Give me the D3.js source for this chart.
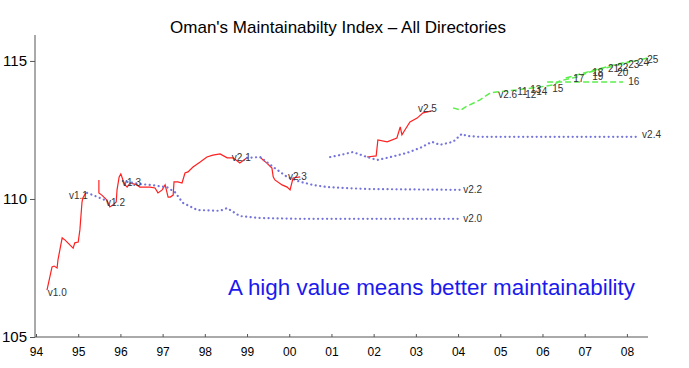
<!DOCTYPE html>
<html>
<head>
<meta charset="utf-8">
<style>
body { margin: 0; background: white; }
text { font-family: "Liberation Sans", Arial, sans-serif; }
.axis path, .axis line { stroke: #555; }
.axis text { fill: black; }
.lbl { font-size: 10px; fill: #333; }
</style>
</head>
<body>
<script src="https://d3js.org/d3.v7.min.js"></script>
<script>
var width = 689,
    height = 368;

// trunk (red, solid) - [year, index]
var redA = [[1994.26,106.70],[1994.38,107.54],[1994.43,107.57],[1994.50,107.50],[1994.52,107.79],[1994.62,108.59],
  [1994.69,108.51],[1994.88,108.22],[1994.92,108.41],[1995.00,108.44],[1995.04,108.88],[1995.09,109.89],[1995.11,110.04],[1995.18,110.22]];
var redB = [[1995.49,110.69],[1995.49,110.22],[1995.56,110.14],[1995.68,109.96],[1995.75,109.71],[1995.82,109.78],[1995.90,109.89],
  [1995.92,110.33],[1995.97,110.80],[1996.01,110.91],[1996.06,110.69],[1996.11,110.51],[1996.16,110.43],[1996.23,110.58],
  [1996.39,110.51],[1996.46,110.43],[1996.70,110.43],[1996.82,110.40],[1996.89,110.22],[1996.99,110.33],[1997.06,110.51],
  [1997.13,110.07],[1997.18,110.07],[1997.25,110.14],[1997.27,110.62],[1997.36,110.62],[1997.46,110.58],[1997.53,110.94],
  [1997.60,110.98],[1997.72,111.16],[1997.89,111.34],[1998.05,111.52],[1998.19,111.59],[1998.36,111.63],[1998.53,111.49],
  [1998.67,111.49],[1998.83,111.30],[1999.00,111.49]];
var redC = [[1999.31,111.52],[1999.38,111.41],[1999.47,111.30],[1999.59,111.12],[1999.62,110.80],[1999.66,110.69],
  [1999.83,110.51],[1999.95,110.43],[2000.02,110.33],[2000.09,110.76],[2000.26,110.80]];
var redD = [[2001.84,111.52],[2002.06,111.56],[2002.10,112.14],[2002.32,112.07],[2002.55,112.21],[2002.63,112.61],
  [2002.67,112.32],[2002.74,112.50],[2002.86,112.79],[2003.03,112.93],[2003.17,113.12],[2003.38,113.19]];

// release branches (blue, dotted)
var blueA = [[1995.21,110.22],[1995.40,110.11],[1995.68,109.93]];
var blueB = [[1996.06,110.65],[1996.46,110.54],[1996.70,110.51],[1997.10,110.43],[1997.29,110.25],[1997.48,109.86],
  [1997.82,109.60],[1998.36,109.57],[1998.53,109.67],[1998.83,109.38],[1999.31,109.31],[2000.26,109.28],[2004.05,109.28]];
var blueC = [[1999.00,111.49],[1999.31,111.52],[1999.62,111.16],[1999.95,110.80],[2000.26,110.62],[2000.56,110.51],
  [2000.90,110.43],[2001.84,110.36],[2004.05,110.33]];
var blueD = [[2000.97,111.52],[2001.20,111.59],[2001.51,111.70],[2001.84,111.52],[2002.08,111.41],[2002.32,111.49],
  [2002.79,111.67],[2003.10,111.85],[2003.38,112.07],[2003.57,111.96],[2003.88,112.07],[2004.09,112.36],[2004.21,112.28],
  [2004.52,112.25],[2008.31,112.25]];

// newer trunk and branches (green, dashed)
var greenA = [[2003.88,113.30],[2004.07,113.22],[2004.17,113.33],[2004.52,113.59],[2004.76,113.84],[2004.95,113.88],
  [2005.40,113.95],[2005.94,114.06],[2006.25,114.13],[2006.42,114.28],[2006.82,114.42],[2007.06,114.57],[2007.29,114.67],
  [2007.60,114.78],[2008.00,114.93],[2008.31,115.04],[2008.50,115.11]];
var greenB = [[2006.11,114.24],[2007.91,114.24]];
var greenC = [[2006.55,114.38],[2006.95,114.55],[2007.35,114.72],[2007.75,114.88],[2008.20,115.02]];

// release labels: text, year, index
var labels = [["v1.0",1994.28,106.63],["v1.1",1994.78,110.11],["v1.2",1995.66,109.89],["v1.3",1996.04,110.58],
  ["v2.1",1998.64,111.49],["v2.3",1999.97,110.80],["v2.0",2004.12,109.28],["v2.2",2004.12,110.33],
  ["v2.4",2008.36,112.32],["v2.5",2003.05,113.26],["v2.6",2004.95,113.80],["11",2005.40,113.88],
  ["12",2005.59,113.80],["13",2005.71,113.95],["14",2005.85,113.91],["15",2006.23,114.02],["16",2008.03,114.24],
  ["17",2006.73,114.35],["18",2007.18,114.57],["19",2007.18,114.42],["20",2007.77,114.57],["21",2007.55,114.71],
  ["22",2007.77,114.78],["23",2008.03,114.86],["24",2008.26,114.93],["25",2008.48,115.07]];

var years = d3.range(1994, 2009);
var yTicks = [105, 110, 115];

var svg = d3.select("body").append("svg")
    .attr("width", width)
    .attr("height", height);

var x = d3.scaleLinear().domain([1994, 2008.5]).range([36, 648]);
var y = d3.scaleLinear().domain([105, 115.94]).range([337, 35]);

var line = d3.line()
    .x(function(d) { return x(d[0]); })
    .y(function(d) { return y(d[1]); });

// axes
svg.append("g")
    .attr("class", "axis")
    .attr("transform", "translate(0,337)")
    .call(d3.axisBottom(x).tickValues(years).tickSize(-3).tickPadding(10)
      .tickFormat(function(d) { return String(d).slice(2); }))
    .call(function(g) { g.selectAll("text").style("font-size", "12px"); })
    .call(function(g) { g.select(".domain").attr("d", "M35,0H648"); });

svg.append("g")
    .attr("class", "axis")
    .attr("transform", "translate(35,0)")
    .call(d3.axisLeft(y).tickValues(yTicks).tickSize(5).tickPadding(3))
    .call(function(g) { g.selectAll("text").style("font-size", "15px"); })
    .call(function(g) { g.select(".domain").attr("d", "M0,35V337").attr("stroke", "#222"); });

// lines: data, colour, dash, width
var series = [
  [redA, "#ff2020", null, 1.2], [redB, "#ff2020", null, 1.2], [redC, "#ff2020", null, 1.2], [redD, "#ff2020", null, 1.2],
  [blueA, "#7474dc", "0.1,4.4", 2.2], [blueB, "#7474dc", "0.1,4.4", 2.2], [blueC, "#7474dc", "0.1,4.4", 2.2], [blueD, "#7474dc", "0.1,4.4", 2.2],
  [greenA, "#5cee4c", "6,3", 1.5], [greenB, "#5cee4c", "6,3", 1.5], [greenC, "#5cee4c", "6,3", 1.5]
];

svg.selectAll("path.series")
    .data(series)
    .enter()
    .append("path")
    .attr("class", "series")
    .attr("d", function(d) { return line(d[0]); })
    .attr("fill", "none")
    .attr("stroke", function(d) { return d[1]; })
    .attr("stroke-width", function(d) { return d[3]; })
    .attr("stroke-dasharray", function(d) { return d[2]; })
    .attr("stroke-linecap", function(d) { return d[2] && d[2][0] === "0" ? "round" : "butt"; });

svg.selectAll("text.lbl")
    .data(labels)
    .enter()
    .append("text")
    .attr("class", "lbl")
    .attr("x", function(d) { return x(d[1]); })
    .attr("y", function(d) { return y(d[2]); })
    .attr("dy", "0.35em")
    .text(function(d) { return d[0]; });

// title and note
svg.append("text")
    .attr("x", 338)
    .attr("y", 33)
    .attr("text-anchor", "middle")
    .style("font-size", "17px")
    .text("Oman's Maintainabilty Index \u2013 All Directories");

svg.append("text")
    .attr("x", 228)
    .attr("y", 295)
    .style("font-size", "22.4px")
    .style("fill", "#1a1aee")
    .text("A high value means better maintainability");
</script>
</body>
</html>
